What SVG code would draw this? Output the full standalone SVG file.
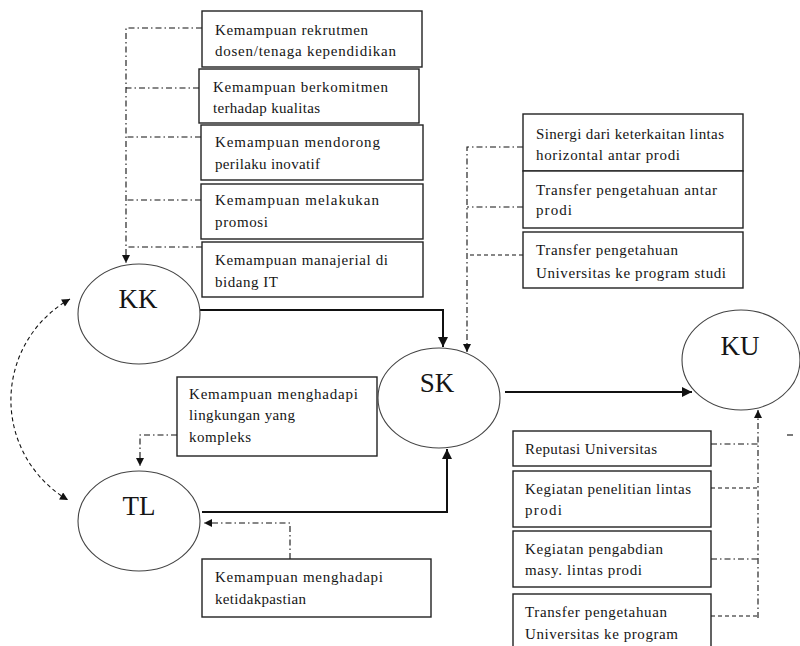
<svg xmlns="http://www.w3.org/2000/svg" width="800" height="646" viewBox="0 0 800 646">
<style>
.bg{fill:#fff}
.box{fill:#fff;stroke:#222;stroke-width:1.4}
.el{fill:#fff;stroke:#444;stroke-width:1.1}
.t{font-family:"Liberation Serif","Times New Roman",serif;font-size:15px;fill:#151515}
.big{font-family:"Liberation Serif","Times New Roman",serif;font-size:27px;fill:#151515;text-anchor:middle}
.solid{fill:none;stroke:#111;stroke-width:2}
.dd{fill:none;stroke:#111;stroke-width:1.1;stroke-dasharray:6 3 1.5 3}
.ds{fill:none;stroke:#111;stroke-width:1.1;stroke-dasharray:4 3}
</style>
<defs>
<marker id="ah" viewBox="0 0 10 10" refX="10" refY="5" markerWidth="9" markerHeight="8" markerUnits="userSpaceOnUse" orient="auto-start-reverse">
<path d="M0,0 L10,5 L0,10 z" fill="#111"/>
</marker>
<marker id="ahs" viewBox="0 0 10 10" refX="10" refY="5" markerWidth="11" markerHeight="10" markerUnits="userSpaceOnUse" orient="auto-start-reverse">
<path d="M0,0 L10,5 L0,10 z" fill="#111"/>
</marker>
</defs>
<rect class="bg" x="0" y="0" width="800" height="646"/>

<g id="connectors">
<path class="dd" d="M202 28 H126 V263" marker-end="url(#ah)"/>
<path class="dd" d="M199 88 H126"/>
<path class="dd" d="M201 137 H126"/>
<path class="dd" d="M201 200 H126"/>
<path class="dd" d="M202 247 H126"/>
<path class="solid" d="M200 310 H443 V347" marker-end="url(#ahs)"/>
<path class="dd" d="M523 147 H467 V352" marker-end="url(#ah)"/>
<path class="dd" d="M523 207 H467"/>
<path class="ds" d="M523 255 H467"/>
<path class="solid" d="M505 392 H692" marker-end="url(#ahs)"/>
<path class="dd" d="M758 618 V410" marker-end="url(#ah)"/>
<path class="dd" d="M711 444 H758"/>
<path class="ds" d="M711 488 H758"/>
<path class="dd" d="M711 559 H758"/>
<path class="ds" d="M711 616 H758"/>
<path class="ds" d="M70 299 A116 116 0 0 0 68 500" marker-start="url(#ah)" marker-end="url(#ah)"/>
<path class="dd" d="M177 435 H140 V466" marker-end="url(#ah)"/>
<path class="solid" d="M202 512 H447 V449" marker-end="url(#ahs)"/>
<path class="dd" d="M290 559 V523 H204" marker-end="url(#ah)"/>
<path d="M787 435 H793" stroke="#222" stroke-width="1.2"/>
</g>

<g id="b1"><rect class="box" x="202" y="11" width="220" height="56"/>
<text class="t" x="215" y="35" textLength="153">Kemampuan rekrutmen</text>
<text class="t" x="215" y="56" textLength="181">dosen/tenaga kependidikan</text></g>
<g id="b2"><rect class="box" x="199" y="69" width="220" height="54"/>
<text class="t" x="213" y="92" textLength="175">Kemampuan berkomitmen</text>
<text class="t" x="213" y="113" textLength="107">terhadap kualitas</text></g>
<g id="b3"><rect class="box" x="201" y="125" width="222" height="55"/>
<text class="t" x="215" y="147" textLength="165">Kemampuan mendorong</text>
<text class="t" x="215" y="169" textLength="105">perilaku inovatif</text></g>
<g id="b4"><rect class="box" x="201" y="184" width="222" height="55"/>
<text class="t" x="215" y="205" textLength="164">Kemampuan melakukan</text>
<text class="t" x="215" y="227" textLength="53">promosi</text></g>
<g id="b5"><rect class="box" x="202" y="242" width="221" height="55"/>
<text class="t" x="215" y="265" textLength="173">Kemampuan manajerial di</text>
<text class="t" x="215" y="287" textLength="63">bidang IT</text></g>

<g id="r1"><rect class="box" x="523" y="114" width="220" height="57"/>
<text class="t" x="536" y="139" textLength="188">Sinergi dari keterkaitan lintas</text>
<text class="t" x="536" y="160" textLength="144">horizontal antar prodi</text></g>
<g id="r2"><rect class="box" x="523" y="171" width="220" height="57"/>
<text class="t" x="536" y="195" textLength="181">Transfer pengetahuan antar</text>
<text class="t" x="536" y="215" textLength="36">prodi</text></g>
<g id="r3"><rect class="box" x="523" y="232" width="220" height="56"/>
<text class="t" x="536" y="255" textLength="142">Transfer pengetahuan</text>
<text class="t" x="536" y="278" textLength="190">Universitas ke program studi</text></g>

<g id="u1"><rect class="box" x="513" y="431" width="198" height="35"/>
<text class="t" x="525" y="454" textLength="132">Reputasi Universitas</text></g>
<g id="u2"><rect class="box" x="513" y="471" width="198" height="56"/>
<text class="t" x="525" y="494" textLength="166">Kegiatan penelitian lintas</text>
<text class="t" x="525" y="515" textLength="37">prodi</text></g>
<g id="u3"><rect class="box" x="513" y="531" width="198" height="56"/>
<text class="t" x="525" y="554" textLength="138">Kegiatan pengabdian</text>
<text class="t" x="525" y="575" textLength="117">masy. lintas prodi</text></g>
<g id="u4"><rect class="box" x="513" y="594" width="198" height="60"/>
<text class="t" x="525" y="617" textLength="142">Transfer pengetahuan</text>
<text class="t" x="525" y="639" textLength="153">Universitas ke program</text></g>

<g id="l1"><rect class="box" x="177" y="377" width="200" height="79"/>
<text class="t" x="189" y="399" textLength="169">Kemampuan menghadapi</text>
<text class="t" x="189" y="420" textLength="106">lingkungan yang</text>
<text class="t" x="189" y="442" textLength="62">kompleks</text></g>
<g id="l2"><rect class="box" x="202" y="559" width="229" height="58"/>
<text class="t" x="215" y="582" textLength="168">Kemampuan menghadapi</text>
<text class="t" x="215" y="604" textLength="91">ketidakpastian</text></g>

<g id="KK"><ellipse class="el" cx="139" cy="314" rx="61" ry="50"/><text class="big" x="138" y="308">KK</text></g>
<g id="SK"><ellipse class="el" cx="439" cy="398" rx="61" ry="50"/><text class="big" x="437" y="392">SK</text></g>
<g id="TL"><ellipse class="el" cx="139" cy="521" rx="61" ry="50"/><text class="big" x="139" y="515">TL</text></g>
<g id="KU"><ellipse class="el" cx="741" cy="360" rx="59" ry="50"/><text class="big" x="740" y="355">KU</text></g>
</svg>
